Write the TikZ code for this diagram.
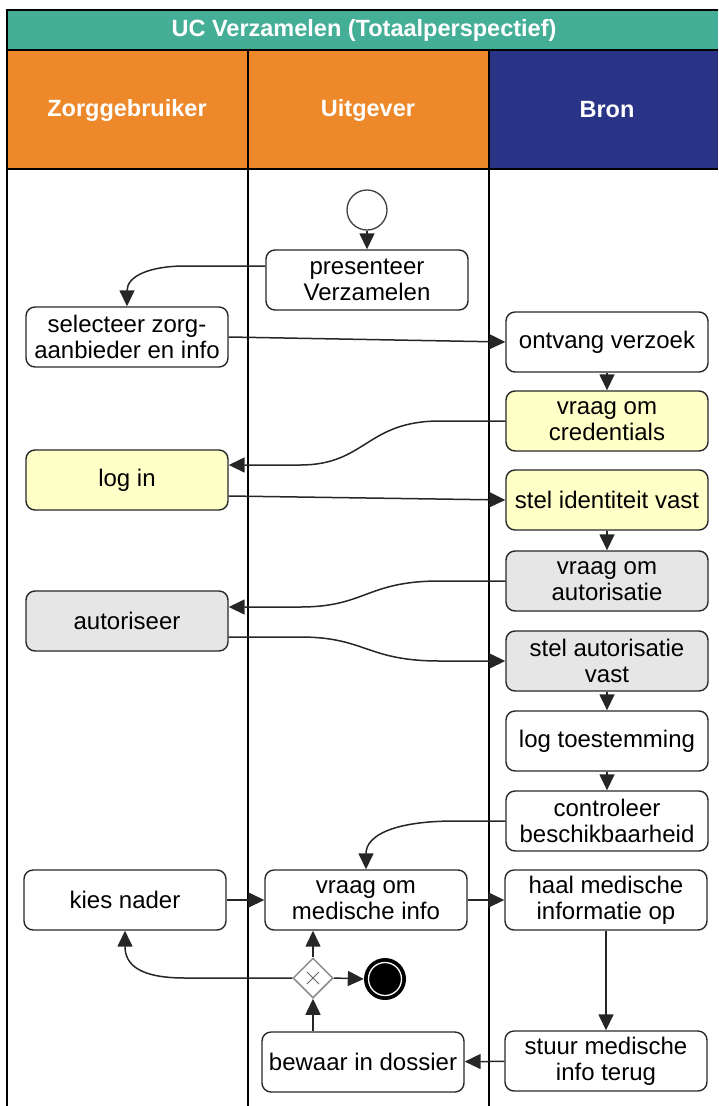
\documentclass[tikz,border=0pt]{standalone}
\usepackage{fontspec}
\setmainfont{Liberation Sans}
\usetikzlibrary{arrows.meta,shapes.geometric}
\definecolor{titleteal}{RGB}{69,174,151}
\definecolor{laneorange}{RGB}{238,137,43}
\definecolor{laneblue}{RGB}{41,52,134}
\definecolor{noteyellow}{RGB}{255,255,200}
\definecolor{notegrey}{RGB}{230,230,230}
\definecolor{boxline}{RGB}{40,40,40}
\begin{document}
\begin{tikzpicture}[x=1pt,y=-1pt,
  act/.style={draw=boxline, line width=1.4pt, rounded corners=9pt, fill=white,
    minimum width=202pt, minimum height=60pt, inner sep=1pt, align=center,
    font=\fontsize{24}{26}\selectfont},
  yel/.style={act, fill=noteyellow},
  gry/.style={act, fill=notegrey},
  conn/.style={draw=black!85, line width=1.5pt, -{Triangle[length=16pt,width=15pt]}},
  hdr/.style={font=\fontsize{23.5}{26}\selectfont\bfseries, text=white},
  lane/.style={draw=black, line width=1.8pt}
]
\useasboundingbox (0,0) rectangle (718,1106);
% title and headers
\fill[titleteal] (7,10) rectangle (718,50);
\fill[laneorange] (7,50) rectangle (489,169);
\fill[laneblue] (489,50) rectangle (718,169);
\draw[lane] (718,10) -- (7,10) -- (7,1106);
\draw[lane] (7,50) -- (718,50);
\draw[lane] (7,169) -- (718,169);
\draw[lane] (248,50) -- (248,1106);
\draw[lane] (489,50) -- (489,1106);
\node[hdr] (title) at (364,30) {UC Verzamelen (Totaalperspectief)};
\node[hdr] (hz) at (127,110) {Zorggebruiker};
\node[hdr] (hu) at (368,110) {Uitgever};
\node[hdr] (hb) at (607,110) {Bron};

% nodes
\node[draw=black!75, line width=1.3pt, circle, minimum size=40pt, inner sep=0pt, fill=white] (start) at (367,210) {};
\node[act] (pres) at (367,280) {presenteer\\Verzamelen};
\node[act] (sel) at (127,337) {selecteer zorg-\\aanbieder en info};
\node[act] (ontv) at (607,342) {ontvang verzoek};
\node[yel] (cred) at (607,421) {vraag om\\credentials};
\node[yel] (login) at (127,480) {log in};
\node[yel] (stelid) at (607,500) {stel identiteit vast};
\node[gry] (vaut) at (607,581) {vraag om\\autorisatie};
\node[gry] (autor) at (127,621) {autoriseer};
\node[gry] (staut) at (607,661) {stel autorisatie\\vast};
\node[act] (logt) at (607,741) {log toestemming};
\node[act] (contr) at (607,821) {controleer\\beschikbaarheid};
\node[act] (kies) at (125,900) {kies nader};
\node[act] (vmed) at (366,900) {vraag om\\medische info};
\node[act] (haal) at (606,900) {haal medische\\informatie op};
\node[draw=black!45, line width=1.5pt, diamond, minimum width=40pt, minimum height=40pt, inner sep=0pt, fill=white] (gw) at (313,978) {};
\draw[black!60, line width=1pt] ([xshift=-6pt,yshift=6pt]gw.center) -- ([xshift=6pt,yshift=-6pt]gw.center)
  ([xshift=-6pt,yshift=-6pt]gw.center) -- ([xshift=6pt,yshift=6pt]gw.center);
\node[circle, fill=black, minimum size=42pt, inner sep=0pt] (eind) at (385,979) {};
\draw[white, line width=1.3pt] (eind.center) circle[radius=16.5pt];
\node[act] (bew) at (363,1062) {bewaar in dossier};
\node[act] (stuur) at (606,1061) {stuur medische\\info terug};

% connectors
\draw[conn] (start) -- (pres);
\draw[conn] ([yshift=14pt]pres.west) -- (185,266) .. controls (150,266) and (127,276) .. (sel.north);
\draw[conn] (sel.east) -- (ontv.west);
\draw[conn] (ontv) -- (cred);
\draw[conn] (cred.west) -- (440,421) .. controls (366,421) and (366,465) .. (300,465) -- ([yshift=15pt]login.east);
\draw[conn] ([yshift=-16pt]login.east) -- (stelid.west);
\draw[conn] (stelid) -- (vaut);
\draw[conn] (vaut.west) -- (440,581) .. controls (366,581) and (366,607) .. (300,607) -- ([yshift=14pt]autor.east);
\draw[conn] ([yshift=-16pt]autor.east) -- (300,637) .. controls (366,637) and (366,661) .. (440,661) -- (staut.west);
\draw[conn] (staut) -- (logt);
\draw[conn] (logt) -- (contr);
\draw[conn] (contr.west) -- (455,821) .. controls (395,821) and (366,835) .. (vmed.north);
\draw[conn] (kies) -- (vmed);
\draw[conn] (vmed) -- (haal);
\draw[conn] (haal) -- (stuur);
\draw[conn] (stuur) -- (bew);
\draw[conn] (bew.north -| gw.south) -- (gw.south);
\draw[conn] (gw.north) -- (gw.north |- vmed.south);
\draw[conn] (gw.east) -- (eind.west);
\draw[conn] (gw.west) -- (185,978) .. controls (140,978) and (125,965) .. (kies.south);
\end{tikzpicture}
\end{document}
